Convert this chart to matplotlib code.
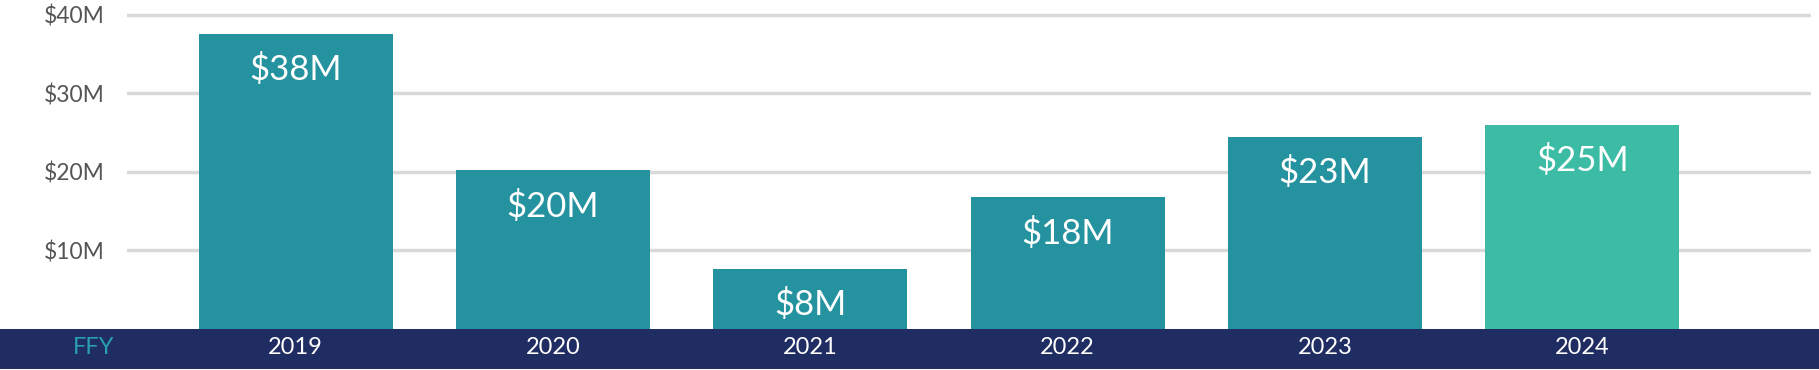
import matplotlib.pyplot as plt
from matplotlib.patches import Rectangle
from matplotlib.transforms import blended_transform_factory

plt.rcParams['font.family'] = ['Lato', 'DejaVu Sans']

# values (bar heights) and the printed labels
years = ['2019', '2020', '2021', '2022', '2023', '2024']
heights = [37.6, 20.2, 7.7, 16.8, 24.5, 26.0]
bar_labels = ['$38M', '$20M', '$8M', '$18M', '$23M', '$25M']
y_ticks = [10, 20, 30, 40]
y_tick_labels = ['$10M', '$20M', '$30M', '$40M']

teal = '#24929f'
green = '#3cbba5'
navy = '#1f2d62'
colors = [teal] * 5 + [green]

W, H = 1819, 370
fig = plt.figure(figsize=(W / 100, H / 100), dpi=100)

# axes spans the gridline extent, bottom sits on the navy band
ax = fig.add_axes([127 / W, (H - 329) / H, (1811 - 127) / W, 329 / H])
x = list(range(len(years)))
ax.bar(x, heights, width=0.754, color=colors, zorder=2)
ax.set_xlim(-0.6556, 5.889)
ax.set_ylim(0, 41.9)

ax.set_yticks(y_ticks)
ax.set_yticklabels(y_tick_labels, fontsize=16.5, color='#555555')
ax.tick_params(axis='y', length=0, pad=16)
ax.set_xticks([])
ax.grid(axis='y', color='#d9d9d9', linewidth=2.5, zorder=0)
for s in ax.spines.values():
    s.set_visible(False)

# value labels inside top of each bar
for xi, h, lab in zip(x, heights, bar_labels):
    ax.annotate(lab, (xi, h), xytext=(0, -26), textcoords='offset points',
                ha='center', va='center', color='white', fontsize=25)

# navy band with the years
fig.add_artist(Rectangle((0, 1 / H), 1, 40 / H, transform=fig.transFigure,
                         facecolor=navy, edgecolor='none', zorder=0))
trans = blended_transform_factory(ax.transData, fig.transFigure)
for xi, yr in zip(x, years):
    ax.text(xi, (H - 348) / H, yr, transform=trans, ha='center', va='center',
            color='white', fontsize=17, clip_on=False)
fig.text(94 / W, (H - 348) / H, 'FFY', ha='center', va='center',
         color='#2a9fae', fontsize=17)

fig.savefig('out.png', dpi=100)
